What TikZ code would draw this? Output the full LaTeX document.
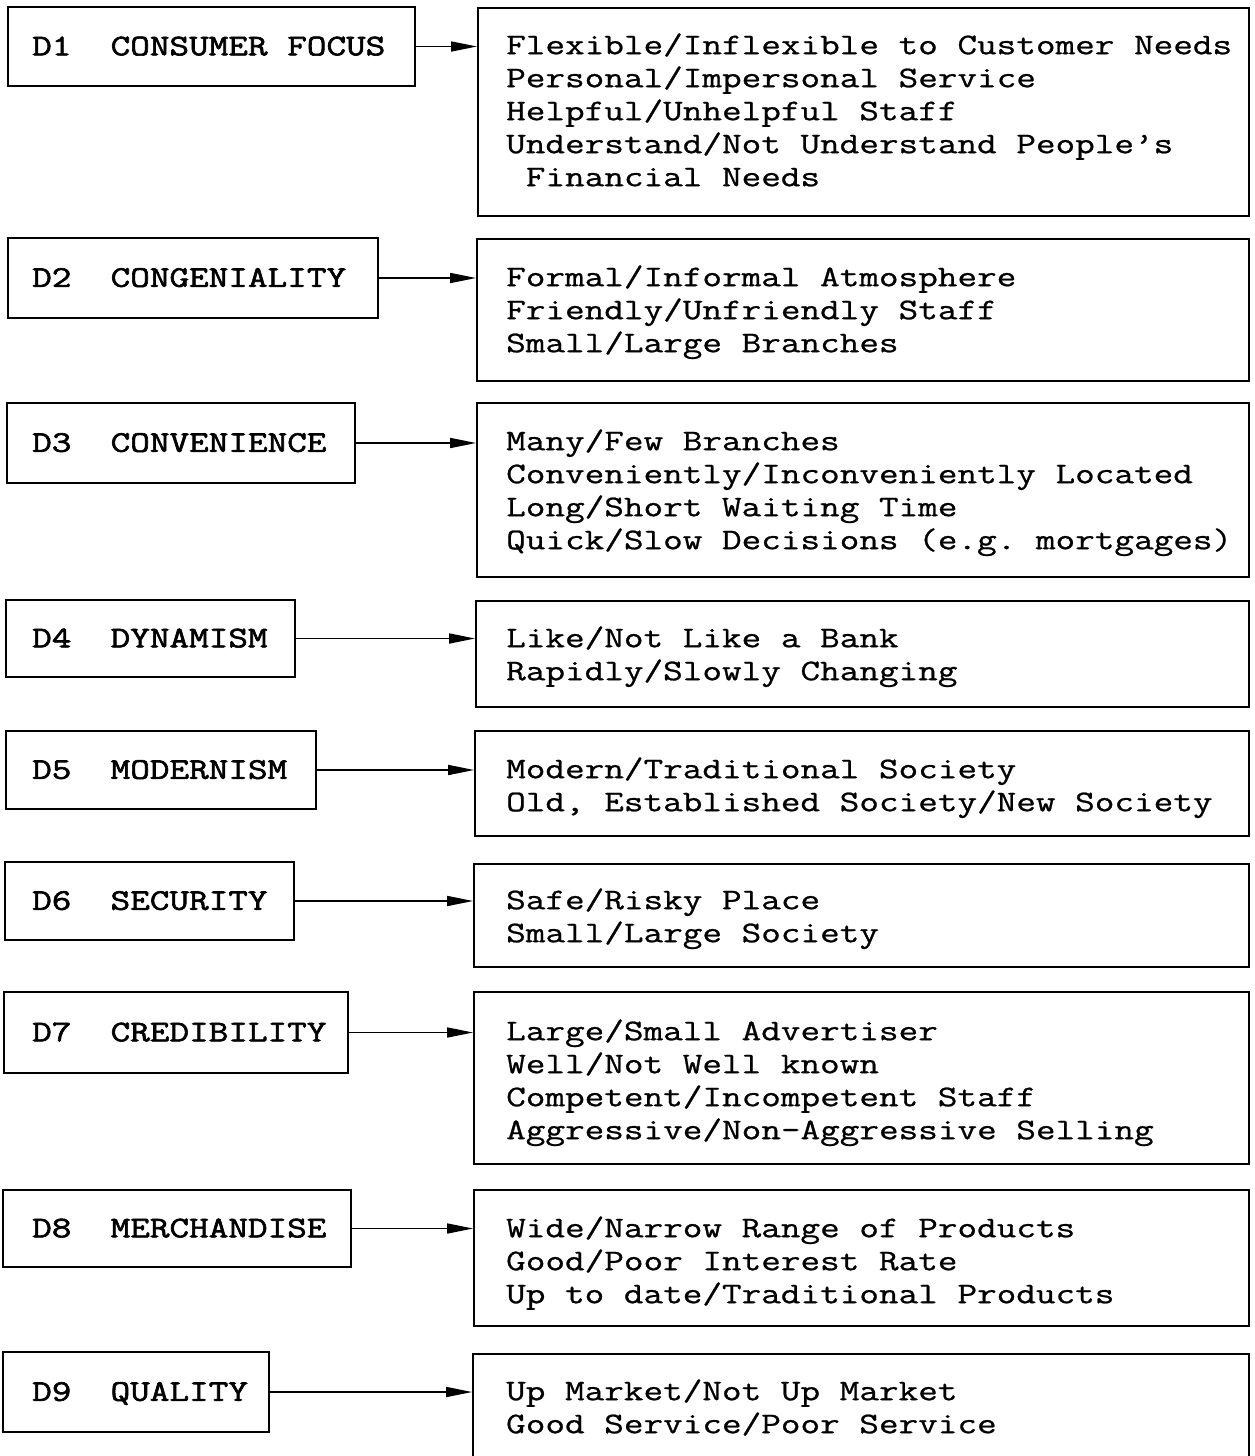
\documentclass[tikz,border=0pt]{standalone}
\usepackage{fontspec}
\usetikzlibrary{arrows.meta}
% typewriter faces, widened to a 19.6pt character pitch
\newfontfamily\itemfont{Latin Modern Mono}[FakeStretch=1.27,FakeBold=0.8]
\newfontfamily\dimfont{Latin Modern Mono}[FakeStretch=1.27,FakeBold=2]
\begin{document}
\begin{tikzpicture}[x=1pt,y=-1pt,
  box/.style={draw, line width=1.8pt, rectangle, inner sep=0pt},
  dimtext/.style={inner sep=0pt, anchor=base west,
    font=\fontsize{30}{33}\selectfont\frenchspacing\dimfont},
  itemtext/.style={inner sep=0pt, anchor=north west, align=left,
    font=\fontsize{30}{33}\selectfont\frenchspacing\itemfont},
  link/.style={line width=1.6pt, -{Triangle[length=26pt,width=10pt]}}]
\useasboundingbox (0,0) rectangle (1255,1456);
\fill[white] (0,0) rectangle (1255,1456);
\clip (0,0) rectangle (1255,1456);

% dimension boxes (left column)
\node[box, minimum width=407pt, minimum height=79pt] (L1) at (211.5,46.5) {};
\node[box, minimum width=370pt, minimum height=80pt] (L2) at (193,278) {};
\node[box, minimum width=348pt, minimum height=80pt] (L3) at (181,443) {};
\node[box, minimum width=289pt, minimum height=77pt] (L4) at (150.5,638.5) {};
\node[box, minimum width=310pt, minimum height=78pt] (L5) at (161,770) {};
\node[box, minimum width=289pt, minimum height=78pt] (L6) at (149.5,901) {};
\node[box, minimum width=344pt, minimum height=81pt] (L7) at (176,1032.5) {};
\node[box, minimum width=348pt, minimum height=77pt] (L8) at (177,1228.5) {};
\node[box, minimum width=266pt, minimum height=80pt] (L9) at (136,1392) {};

\node[dimtext] (D1) at (32,55.3) {D1~~CONSUMER FOCUS};
\node[dimtext] (D2) at (32,286.8) {D2~~CONGENIALITY};
\node[dimtext] (D3) at (32,451.8) {D3~~CONVENIENCE};
\node[dimtext] (D4) at (32,647.3) {D4~~DYNAMISM};
\node[dimtext] (D5) at (32,778.8) {D5~~MODERNISM};
\node[dimtext] (D6) at (32,909.8) {D6~~SECURITY};
\node[dimtext] (D7) at (32,1041.3) {D7~~CREDIBILITY};
\node[dimtext] (D8) at (32,1237.3) {D8~~MERCHANDISE};
\node[dimtext] (D9) at (32,1400.8) {D9~~QUALITY};

% attribute boxes (right column)
\node[box, minimum width=771pt, minimum height=208pt] (R1) at (863.5,112) {};
\node[box, minimum width=772pt, minimum height=142pt] (R2) at (863,310) {};
\node[box, minimum width=772pt, minimum height=174pt] (R3) at (863,490) {};
\node[box, minimum width=773pt, minimum height=106pt] (R4) at (862.5,654) {};
\node[box, minimum width=774pt, minimum height=105pt] (R5) at (862,783.5) {};
\node[box, minimum width=775pt, minimum height=103pt] (R6) at (861.5,915.5) {};
\node[box, minimum width=775pt, minimum height=172pt] (R7) at (861.5,1078) {};
\node[box, minimum width=775pt, minimum height=136pt] (R8) at (861.5,1258) {};
\node[box, minimum width=776pt, minimum height=126pt] (R9) at (861,1417) {};

\node[itemtext] (T1) at (506,30.9) {\strut Flexible/Inflexible to Customer Needs\\
  Personal/Impersonal Service\\ Helpful/Unhelpful Staff\\
  Understand/Not Understand People’s\\ ~Financial Needs};
\node[itemtext] (T2) at (506,262.9) {\strut Formal/Informal Atmosphere\\
  Friendly/Unfriendly Staff\\ Small/Large Branches};
\node[itemtext] (T3) at (506,426.9) {\strut Many/Few Branches\\
  Conveniently/Inconveniently Located\\ Long/Short Waiting Time\\
  Quick/Slow Decisions (e.g. mortgages)};
\node[itemtext] (T4) at (506,623.9) {\strut Like/Not Like a Bank\\
  Rapidly/Slowly Changing};
\node[itemtext] (T5) at (506,754.9) {\strut Modern/Traditional Society\\
  Old, Established Society/New Society};
\node[itemtext] (T6) at (506,885.9) {\strut Safe/Risky Place\\
  Small/Large Society};
\node[itemtext] (T7) at (506,1016.9) {\strut Large/Small Advertiser\\
  Well/Not Well known\\ Competent/Incompetent Staff\\
  Aggressive/Non-Aggressive Selling};
\node[itemtext] (T8) at (506,1213.9) {\strut Wide/Narrow Range of Products\\
  Good/Poor Interest Rate\\ Up to date/Traditional Products};
\node[itemtext] (T9) at (506,1376.9) {\strut Up Market/Not Up Market\\
  Good Service/Poor Service};

% connectors
\foreach \k in {1,...,9}
  \draw[link] (L\k.east) -- (L\k.east -| R\k.west);
\end{tikzpicture}
\end{document}
